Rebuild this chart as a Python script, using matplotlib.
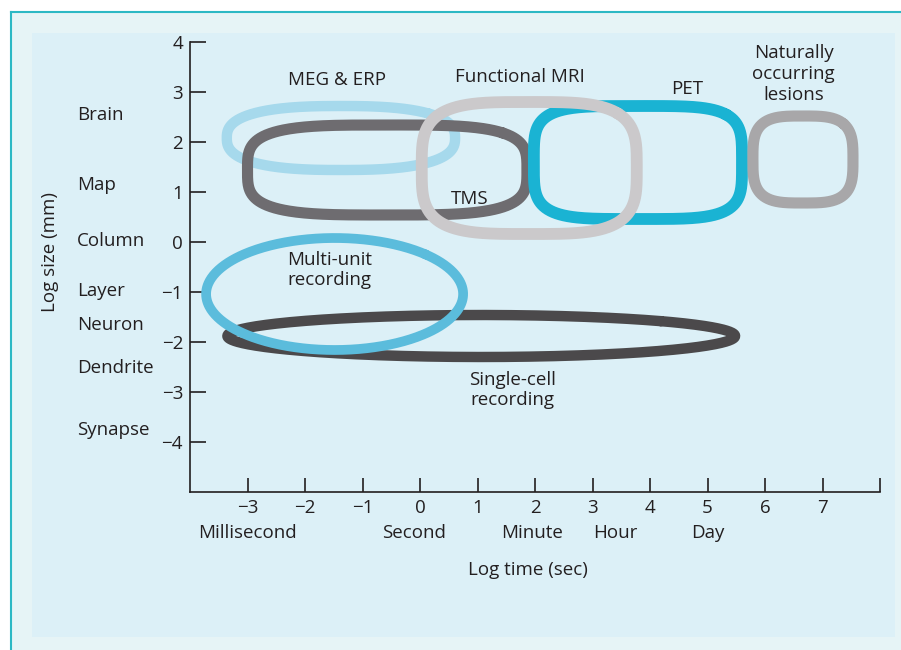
import numpy as np
import matplotlib.pyplot as plt
from matplotlib.patches import Rectangle
from matplotlib.lines import Line2D
from matplotlib.transforms import blended_transform_factory

plt.rcParams['font.family'] = ['Open Sans', 'DejaVu Sans']

# measurement techniques: extent in log time (sec) and log size (mm)
methods = ['MEG & ERP', 'TMS', 'PET', 'Functional MRI',
           'Naturally occurring lesions', 'Single-cell recording', 'Multi-unit recording']
time_lo = [-3.36, -3.00, 1.98, 0.03, 5.79, -3.35, -3.72]
time_hi = [0.61, 1.86, 5.60, 3.77, 7.53, 5.48, 0.75]
size_lo = [1.44, 0.54, 0.46, 0.16, 0.78, -2.30, -2.16]
size_hi = [2.72, 2.34, 2.72, 2.80, 2.52, -1.46, 0.08]

# label text and where it sits
labels = ['MEG & ERP', 'TMS', 'PET', 'Functional MRI',
          'Naturally\noccurring\nlesions', 'Single-cell\nrecording', 'Multi-unit\nrecording']
label_x = [-1.44, 0.87, 4.64, 1.74, 6.5, 1.6, -1.57]
label_y = [3.24, 0.86, 3.06, 3.30, 3.36, -2.96, -0.56]

colors = ['#a6d9ec', '#6e6c70', '#1ab3d3', '#cbc9cb', '#a8a7a9', '#4b494b', '#5bbcdc']
squareness = [2.6, 3.6, 4.2, 3.6, 3.4, 2.0, 2.0]
widths = [7.5, 8.0, 8.5, 8.5, 8.0, 7.5, 7.0]

size_levels = ['Brain', 'Map', 'Column', 'Layer', 'Neuron', 'Dendrite', 'Synapse']
size_level_y = [2.54, 1.14, 0.02, -0.98, -1.66, -2.52, -3.76]

time_levels = ['Millisecond', 'Second', 'Minute', 'Hour', 'Day']
time_level_x = [-3.0, -0.1, 1.95, 3.4, 5.0]

x_ticks = [-3, -2, -1, 0, 1, 2, 3, 4, 5, 6, 7, 8]
y_ticks = [-4, -3, -2, -1, 0, 1, 2, 3, 4]

FS = 13.5
TXT = '#231f20'


def superellipse(x0, x1, y0, y1, n, num=500):
    t = np.linspace(0, 2 * np.pi, num) + np.pi / 4
    c, s = np.cos(t), np.sin(t)
    a, b = (x1 - x0) / 2, (y1 - y0) / 2
    x = (x0 + x1) / 2 + a * np.sign(c) * np.abs(c) ** (2 / n)
    y = (y0 + y1) / 2 + b * np.sign(s) * np.abs(s) ** (2 / n)
    return x, y


fig = plt.figure(figsize=(9.01, 6.5), dpi=100)
fig.patch.set_facecolor('white')

# panel background and frame
fig.add_artist(Rectangle((11 / 901, 0), 1, 1 - 12 / 650, transform=fig.transFigure,
                         facecolor='#e6f4f6', edgecolor='none', zorder=-3))
fig.add_artist(Rectangle((32 / 901, 13 / 650), (895 - 32) / 901, (617 - 13) / 650,
                         transform=fig.transFigure, facecolor='#dcf0f7', edgecolor='none', zorder=-2))
fig.add_artist(Line2D([11 / 901, 1], [1 - 12 / 650] * 2, transform=fig.transFigure,
                      color='#2cb8c4', lw=1.5))
fig.add_artist(Line2D([11 / 901] * 2, [0, 1 - 12 / 650], transform=fig.transFigure,
                      color='#2cb8c4', lw=1.5))

ax = fig.add_axes([190 / 901, 158 / 650, 690 / 901, 450 / 650])
ax.set_facecolor('none')
ax.set_xlim(-4, 8)
ax.set_ylim(-5, 4)

for i in range(len(methods)):
    xs, ys = superellipse(time_lo[i], time_hi[i], size_lo[i], size_hi[i], squareness[i])
    ax.plot(xs, ys, color=colors[i], lw=widths[i], solid_joinstyle='round',
            solid_capstyle='round', zorder=2 + i)
    ax.text(label_x[i], label_y[i], labels[i], ha='center', va='center',
            fontsize=FS, color=TXT, linespacing=1.2, zorder=20)

for sp in ['top', 'right']:
    ax.spines[sp].set_visible(False)
for sp in ['left', 'bottom']:
    ax.spines[sp].set_color(TXT)
    ax.spines[sp].set_linewidth(1.2)

ax.set_xticks(x_ticks)
ax.set_xticklabels([str(v).replace('-', '\u2212') if v != 8 else '' for v in x_ticks])
ax.set_yticks(y_ticks)
ax.set_yticklabels([str(v).replace('-', '\u2212') for v in y_ticks])
ax.tick_params(axis='x', direction='in', length=10, width=1.2, pad=5,
               labelsize=FS, colors=TXT)
ax.tick_params(axis='y', direction='in', length=11.5, width=1.2, pad=5,
               labelsize=FS, colors=TXT)

# size level names: figure x, data y
level_trans = blended_transform_factory(fig.transFigure, ax.transData)
for name, yv in zip(size_levels, size_level_y):
    ax.text(77 / 901, yv, name, transform=level_trans, fontsize=FS, color=TXT,
            ha='left', va='center', clip_on=False)

for name, xv in zip(time_levels, time_level_x):
    ax.text(xv, -5.82, name, fontsize=FS, color=TXT, ha='center', va='center',
            clip_on=False)

ax.text(1.88, -6.56, 'Log time (sec)', fontsize=FS, color=TXT, ha='center',
        va='center', clip_on=False)
fig.text(50 / 901, 1 - 252 / 650, 'Log size (mm)', rotation=90, fontsize=FS,
         color=TXT, ha='center', va='center')

fig.savefig('out.png', dpi=100)
